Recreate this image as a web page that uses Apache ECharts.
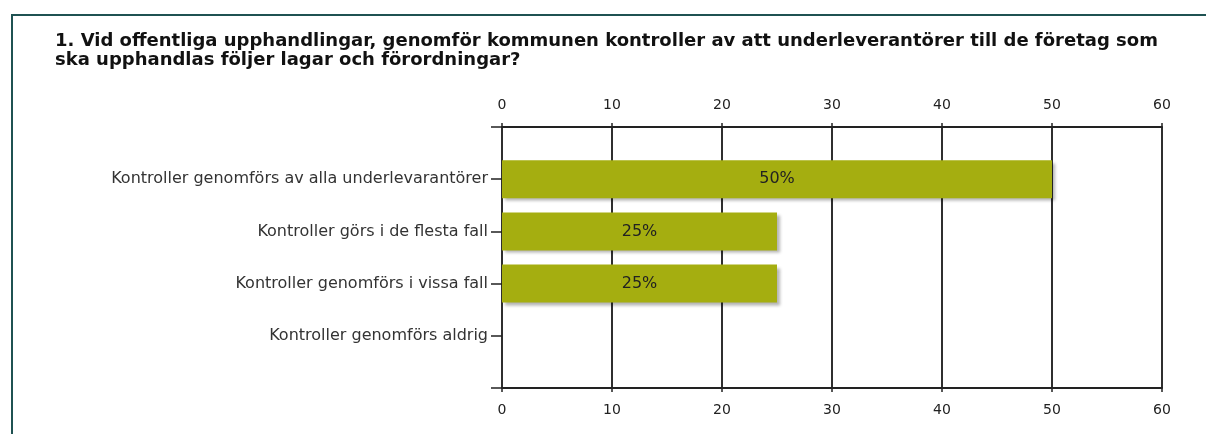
<!DOCTYPE html>
<html>
<head>
<meta charset="utf-8">
<script src="https://cdn.jsdelivr.net/npm/echarts@6/dist/echarts.min.js"></script>
<style>
  html, body { margin: 0; padding: 0; background: #fff; }
  #chart { width: 1206px; height: 434px; }
</style>
</head>
<body>
<div id="chart"></div>
<script>
const titleLines = [
  '1. Vid offentliga upphandlingar, genomför kommunen kontroller av att underleverantörer till de företag som',
  'ska upphandlas följer lagar och förordningar?'
]
const categories = [
  'Kontroller genomförs av alla underlevarantörer',
  'Kontroller görs i de flesta fall',
  'Kontroller genomförs i vissa fall',
  'Kontroller genomförs aldrig'
]
const percents = [50, 25, 25, 0]
const axisMin = 0
const axisMax = 60
const axisStep = 10

// blank slots above and below so the bars sit in the middle of the frame
const yData = ['', ...categories, '']
const barData = [null, ...percents.map((v) => (v > 0 ? v : null)), null]

const BAR_COLOR = '#a5ae10'
const LINE_COLOR = '#222'
const FRAME_COLOR = '#1f5252'
const FONT = 'DejaVu Sans, Verdana, sans-serif'

const xAxisBase = {
  type: 'value',
  min: axisMin,
  max: axisMax,
  interval: axisStep,
  axisLine: { show: true, lineStyle: { color: LINE_COLOR, width: 2 } },
  axisTick: { show: true, length: 4, lineStyle: { color: LINE_COLOR, width: 1.5 } },
  splitLine: { show: true, lineStyle: { color: LINE_COLOR, width: 1.5 } },
  axisLabel: { color: '#222', fontFamily: FONT, fontSize: 14, margin: 15 },
}

const chart = echarts.init(document.getElementById('chart'))
chart.setOption({
  animation: false,
  title: {
    text: titleLines.join('\n'),
    left: 50,
    top: 27,
    textStyle: {
      fontFamily: FONT,
      fontWeight: 'bold',
      fontSize: 18,
      lineHeight: 19,
      color: '#111',
    },
  },
  grid: { left: 502, right: 44, top: 127, bottom: 46 },
  xAxis: [
    { ...xAxisBase, position: 'top' },
    { ...xAxisBase, position: 'bottom' },
  ],
  yAxis: {
    type: 'category',
    data: yData,
    inverse: true,
    boundaryGap: false,
    axisLine: { show: false },
    axisTick: { show: true, length: 11, lineStyle: { color: LINE_COLOR, width: 1.5 } },
    splitLine: { show: false },
    axisLabel: {
      color: '#333',
      fontFamily: FONT,
      fontSize: 16,
      margin: 14,
      interval: 0,
    },
  },
  series: [
    {
      type: 'bar',
      xAxisIndex: 1,
      data: barData,
      barWidth: 38,
      itemStyle: {
        color: BAR_COLOR,
        shadowColor: 'rgba(0,0,0,0.3)',
        shadowBlur: 3,
        shadowOffsetX: 3,
        shadowOffsetY: 3,
      },
      label: {
        show: true,
        position: 'inside',
        formatter: (p) => p.value + '%',
        color: '#222',
        fontFamily: FONT,
        fontSize: 16,
      },
    },
  ],
  graphic: [
    {
      type: 'polyline',
      shape: { points: [[12, 434], [12, 15], [1206, 15]] },
      style: { stroke: FRAME_COLOR, lineWidth: 2, fill: null },
      silent: true,
    },
  ],
})
</script>
</body>
</html>
